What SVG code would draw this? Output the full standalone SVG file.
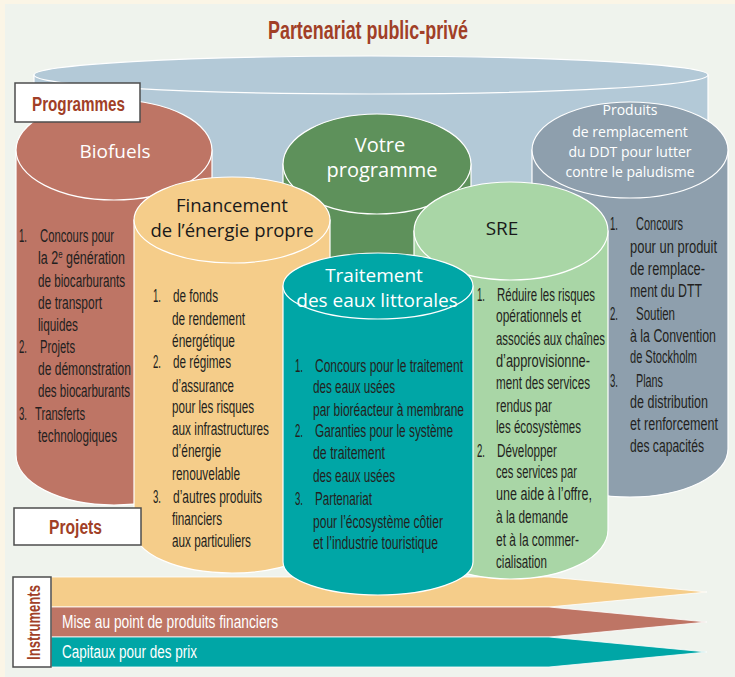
<svg xmlns="http://www.w3.org/2000/svg" width="735" height="677" viewBox="0 0 735 677">
<defs>
<style>
.lst{font-family:"Liberation Sans Narrow","Liberation Sans",Arial,sans-serif;font-size:17.5px;fill:#231F20}
.hd{font-family:"Open Sans","Noto Sans",sans-serif;text-anchor:middle}
.w{fill:#FFFFFF}
.k{fill:#1A1A1A}
.lbl{font-family:"Liberation Sans",Arial,sans-serif;font-weight:bold;fill:#A13F27}
.cyl{stroke:#FFFFFF;stroke-width:1.2}
.box{fill:#FFFFFF;stroke:#4D4D4D;stroke-width:1.5}
.arw{stroke:#FFFFFF;stroke-width:0.8}
.at{font-family:"Liberation Sans Narrow","Liberation Sans",Arial,sans-serif;font-size:17.5px;fill:#FFFFFF}
</style>
</defs>
<rect x="0" y="0" width="735" height="677" fill="#FBF5E6"/>
<rect x="5" y="4" width="730" height="673" fill="#EFF3ED"/>

<text class="lbl" x="268" y="39" font-size="25" textLength="200" lengthAdjust="spacingAndGlyphs">Partenariat public-privé</text>

<g id="instruments-bands">
<polygon class="arw" fill="#F5CD8A" points="51,577 549,577 707,592 549,607 51,607"/>
<polygon class="arw" fill="#BE7565" points="51,607 549,607 707,622 549,637 51,637"/>
<polygon class="arw" fill="#00A6A6" points="51,637 549,637 707,652 549,667 51,667"/>
<text class="at" x="62" y="628" textLength="216" lengthAdjust="spacingAndGlyphs">Mise au point de produits financiers</text>
<text class="at" x="62" y="658" textLength="135" lengthAdjust="spacingAndGlyphs">Capitaux pour des prix</text>
</g>

<g id="ppp">
<path class="cyl" fill="#B3C9D7" d="M34,75 L34,260 A337,19 0 0 0 708,260 L708,75 Z"/>
<ellipse class="cyl" fill="#B3C9D7" cx="371" cy="75" rx="337" ry="19"/>
</g>

<g id="ddt">
<path class="cyl" fill="#8E9FAD" d="M532,150 L532,449 A98,48 0 0 0 728,449 L728,150 Z"/>
<ellipse class="cyl" fill="#8E9FAD" cx="630" cy="150" rx="98" ry="48"/>
<text class="hd w" font-size="14" x="630" y="115">Produits</text>
<text class="hd w" font-size="14" x="630" y="137">de remplacement</text>
<text class="hd w" font-size="14" x="630" y="157">du DDT pour lutter</text>
<text class="hd w" font-size="14" x="630" y="177">contre le paludisme</text>
<text class="lst" x="610" y="230" textLength="8" lengthAdjust="spacingAndGlyphs">1.</text>
<text class="lst" x="636" y="230" textLength="47" lengthAdjust="spacingAndGlyphs">Concours</text>
<text class="lst" x="630" y="253" textLength="87" lengthAdjust="spacingAndGlyphs">pour un produit</text>
<text class="lst" x="630" y="275" textLength="75" lengthAdjust="spacingAndGlyphs">de remplace-</text>
<text class="lst" x="630" y="297" textLength="72" lengthAdjust="spacingAndGlyphs">ment du DTT</text>
<text class="lst" x="610" y="320" textLength="8" lengthAdjust="spacingAndGlyphs">2.</text>
<text class="lst" x="636" y="320" textLength="39" lengthAdjust="spacingAndGlyphs">Soutien</text>
<text class="lst" x="630" y="342" textLength="86" lengthAdjust="spacingAndGlyphs">à la Convention</text>
<text class="lst" x="630" y="363" textLength="67" lengthAdjust="spacingAndGlyphs">de Stockholm</text>
<text class="lst" x="610" y="387" textLength="8" lengthAdjust="spacingAndGlyphs">3.</text>
<text class="lst" x="636" y="387" textLength="27" lengthAdjust="spacingAndGlyphs">Plans</text>
<text class="lst" x="630" y="408" textLength="78" lengthAdjust="spacingAndGlyphs">de distribution</text>
<text class="lst" x="630" y="430" textLength="88" lengthAdjust="spacingAndGlyphs">et renforcement</text>
<text class="lst" x="630" y="452" textLength="74" lengthAdjust="spacingAndGlyphs">des capacités</text>
</g>

<g id="votre-programme">
<path class="cyl" fill="#5E915B" d="M283,164 L283,300 A94,50 0 0 0 471,300 L471,164 Z"/>
<ellipse class="cyl" fill="#5E915B" cx="377" cy="164" rx="94" ry="50"/>
<text class="hd w" font-size="20" x="380" y="152">Votre</text>
<text class="hd w" font-size="20" x="382" y="177">programme</text>
</g>

<g id="biofuels">
<path class="cyl" fill="#BE7565" d="M16,150 L16,455 A98,50 0 0 0 212,455 L212,150 Z"/>
<ellipse class="cyl" fill="#BE7565" cx="114" cy="150" rx="98" ry="50"/>
<text class="hd w" font-size="19" x="115" y="158">Biofuels</text>
<text class="lst" x="19" y="242" textLength="8" lengthAdjust="spacingAndGlyphs">1.</text>
<text class="lst" x="40" y="242" textLength="74" lengthAdjust="spacingAndGlyphs">Concours pour</text>
<text class="lst" x="38" y="264" textLength="87" lengthAdjust="spacingAndGlyphs">la 2<tspan font-size="11" dy="-6">e</tspan><tspan dy="6"> génération</tspan></text>
<text class="lst" x="38" y="287" textLength="87" lengthAdjust="spacingAndGlyphs">de biocarburants</text>
<text class="lst" x="38" y="309" textLength="64" lengthAdjust="spacingAndGlyphs">de transport</text>
<text class="lst" x="38" y="331" textLength="40" lengthAdjust="spacingAndGlyphs">liquides</text>
<text class="lst" x="19" y="353" textLength="8" lengthAdjust="spacingAndGlyphs">2.</text>
<text class="lst" x="40" y="353" textLength="35" lengthAdjust="spacingAndGlyphs">Projets</text>
<text class="lst" x="38" y="375" textLength="93" lengthAdjust="spacingAndGlyphs">de démonstration</text>
<text class="lst" x="38" y="397" textLength="92" lengthAdjust="spacingAndGlyphs">des biocarburants</text>
<text class="lst" x="19" y="420" textLength="8" lengthAdjust="spacingAndGlyphs">3.</text>
<text class="lst" x="35" y="420" textLength="50" lengthAdjust="spacingAndGlyphs">Transferts</text>
<text class="lst" x="38" y="442" textLength="79" lengthAdjust="spacingAndGlyphs">technologiques</text>
</g>

<g id="financement">
<path class="cyl" fill="#F5CD8A" d="M134,220 L134,530 A98,43 0 0 0 330,530 L330,220 Z"/>
<ellipse class="cyl" fill="#F5CD8A" cx="232" cy="220" rx="98" ry="43"/>
<text class="hd k" font-size="18.5" x="232" y="212">Financement</text>
<text class="hd k" font-size="18.5" x="232" y="237">de l’énergie propre</text>
<text class="lst" x="153" y="302" textLength="8" lengthAdjust="spacingAndGlyphs">1.</text>
<text class="lst" x="173" y="302" textLength="45" lengthAdjust="spacingAndGlyphs">de fonds</text>
<text class="lst" x="172" y="325" textLength="73" lengthAdjust="spacingAndGlyphs">de rendement</text>
<text class="lst" x="172" y="347" textLength="63" lengthAdjust="spacingAndGlyphs">énergétique</text>
<text class="lst" x="153" y="368" textLength="8" lengthAdjust="spacingAndGlyphs">2.</text>
<text class="lst" x="173" y="368" textLength="58" lengthAdjust="spacingAndGlyphs">de régimes</text>
<text class="lst" x="172" y="392" textLength="62" lengthAdjust="spacingAndGlyphs">d’assurance</text>
<text class="lst" x="172" y="413" textLength="82" lengthAdjust="spacingAndGlyphs">pour les risques</text>
<text class="lst" x="172" y="435" textLength="97" lengthAdjust="spacingAndGlyphs">aux infrastructures</text>
<text class="lst" x="172" y="457" textLength="49" lengthAdjust="spacingAndGlyphs">d’énergie</text>
<text class="lst" x="172" y="480" textLength="68" lengthAdjust="spacingAndGlyphs">renouvelable</text>
<text class="lst" x="153" y="503" textLength="8" lengthAdjust="spacingAndGlyphs">3.</text>
<text class="lst" x="173" y="503" textLength="89" lengthAdjust="spacingAndGlyphs">d’autres produits</text>
<text class="lst" x="172" y="525" textLength="50" lengthAdjust="spacingAndGlyphs">financiers</text>
<text class="lst" x="172" y="547" textLength="79" lengthAdjust="spacingAndGlyphs">aux particuliers</text>
</g>

<g id="sre">
<path class="cyl" fill="#A9D6A6" d="M414,231 L414,530 A97,49 0 0 0 608,530 L608,231 Z"/>
<ellipse class="cyl" fill="#A9D6A6" cx="511" cy="231" rx="97" ry="49"/>
<text class="hd k" font-size="19" x="502" y="235">SRE</text>
<text class="lst" x="477" y="301" textLength="8" lengthAdjust="spacingAndGlyphs">1.</text>
<text class="lst" x="497" y="301" textLength="98" lengthAdjust="spacingAndGlyphs">Réduire les risques</text>
<text class="lst" x="496" y="322" textLength="85" lengthAdjust="spacingAndGlyphs">opérationnels et</text>
<text class="lst" x="496" y="345" textLength="109" lengthAdjust="spacingAndGlyphs">associés aux chaînes</text>
<text class="lst" x="496" y="367" textLength="94" lengthAdjust="spacingAndGlyphs">d’approvisionne-</text>
<text class="lst" x="496" y="389" textLength="94" lengthAdjust="spacingAndGlyphs">ment des services</text>
<text class="lst" x="496" y="412" textLength="56" lengthAdjust="spacingAndGlyphs">rendus par</text>
<text class="lst" x="496" y="433" textLength="85" lengthAdjust="spacingAndGlyphs">les écosystèmes</text>
<text class="lst" x="477" y="457" textLength="8" lengthAdjust="spacingAndGlyphs">2.</text>
<text class="lst" x="497" y="457" textLength="60" lengthAdjust="spacingAndGlyphs">Développer</text>
<text class="lst" x="496" y="478" textLength="81" lengthAdjust="spacingAndGlyphs">ces services par</text>
<text class="lst" x="496" y="500" textLength="96" lengthAdjust="spacingAndGlyphs">une aide à l’offre,</text>
<text class="lst" x="496" y="523" textLength="72" lengthAdjust="spacingAndGlyphs">à la demande</text>
<text class="lst" x="496" y="546" textLength="83" lengthAdjust="spacingAndGlyphs">et à la commer-</text>
<text class="lst" x="496" y="568" textLength="51" lengthAdjust="spacingAndGlyphs">cialisation</text>
</g>

<g id="traitement">
<path class="cyl" fill="#00A6A6" d="M283,286 L283,562 A95,33 0 0 0 473,562 L473,286 Z"/>
<ellipse class="cyl" fill="#00A6A6" cx="378" cy="286" rx="95" ry="33"/>
<text class="hd w" font-size="19" x="374" y="282">Traitement</text>
<text class="hd w" font-size="19" x="377" y="307">des eaux littorales</text>
<text class="lst" x="295" y="372" textLength="8" lengthAdjust="spacingAndGlyphs">1.</text>
<text class="lst" x="315" y="372" textLength="148" lengthAdjust="spacingAndGlyphs">Concours pour le traitement</text>
<text class="lst" x="313" y="393" textLength="82" lengthAdjust="spacingAndGlyphs">des eaux usées</text>
<text class="lst" x="313" y="416" textLength="151" lengthAdjust="spacingAndGlyphs">par bioréacteur à membrane</text>
<text class="lst" x="295" y="437" textLength="8" lengthAdjust="spacingAndGlyphs">2.</text>
<text class="lst" x="315" y="437" textLength="138" lengthAdjust="spacingAndGlyphs">Garanties pour le système</text>
<text class="lst" x="313" y="459" textLength="72" lengthAdjust="spacingAndGlyphs">de traitement</text>
<text class="lst" x="313" y="482" textLength="82" lengthAdjust="spacingAndGlyphs">des eaux usées</text>
<text class="lst" x="295" y="505" textLength="8" lengthAdjust="spacingAndGlyphs">3.</text>
<text class="lst" x="315" y="505" textLength="57" lengthAdjust="spacingAndGlyphs">Partenariat</text>
<text class="lst" x="313" y="528" textLength="130" lengthAdjust="spacingAndGlyphs">pour l’écosystème côtier</text>
<text class="lst" x="313" y="549" textLength="125" lengthAdjust="spacingAndGlyphs">et l’industrie touristique</text>
</g>

<g id="label-programmes">
<rect class="box" x="15" y="83" width="125" height="39"/>
<text class="lbl" x="32" y="111" font-size="21" textLength="93" lengthAdjust="spacingAndGlyphs">Programmes</text>
</g>
<g id="label-projets">
<rect class="box" x="14" y="508" width="127" height="37"/>
<text class="lbl" x="49" y="534" font-size="20" textLength="53" lengthAdjust="spacingAndGlyphs">Projets</text>
</g>
<g id="label-instruments">
<rect class="box" x="13" y="577" width="38" height="90"/>
<text class="lbl" transform="translate(40,660) rotate(-90)" x="0" y="0" font-size="18" textLength="75" lengthAdjust="spacingAndGlyphs">Instruments</text>
</g>
</svg>
